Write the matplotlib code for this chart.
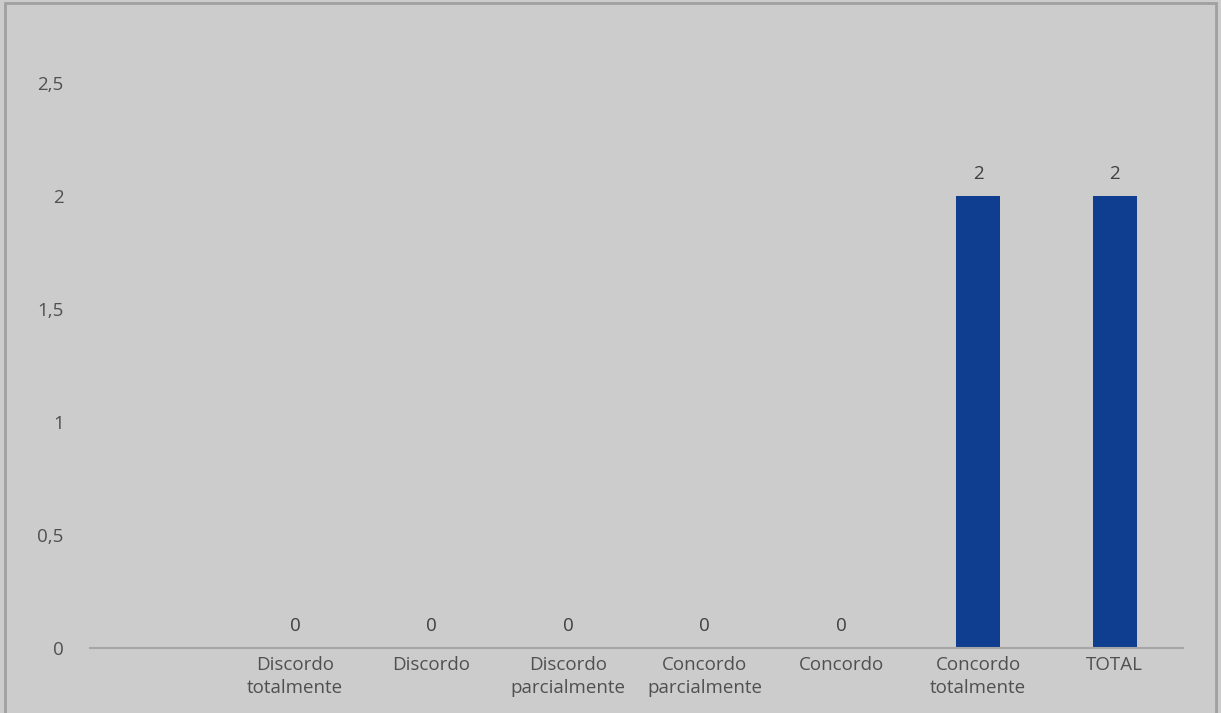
import matplotlib
matplotlib.use("Agg")
import matplotlib.pyplot as plt
from matplotlib.patches import Rectangle
import numpy as np

categories = ["", "Discordo\ntotalmente", "Discordo", "Discordo\nparcialmente",
              "Concordo\nparcialmente", "Concordo", "Concordo\ntotalmente", "TOTAL"]
values = [np.nan, 0, 0, 0, 0, 0, 2, 2]
yticks = [0, 0.5, 1, 1.5, 2, 2.5]
ytick_labels = ["0", "0,5", "1", "1,5", "2", "2,5"]

W, H = 1221, 713
fig = plt.figure(figsize=(W / 100, H / 100), dpi=100)
bg = "#cccccc"
fig.patch.set_facecolor(bg)
plt.rcParams['font.family'] = ['Open Sans', 'DejaVu Sans']

ymax = 2.8
y0_px, unit_px = 648, 226
top_px = y0_px - ymax * unit_px
ax = fig.add_axes([90 / W, 1 - y0_px / H, (1183 - 90) / W, (y0_px - top_px) / H])
ax.set_facecolor(bg)

x = np.arange(len(categories))
ax.bar(x, values, width=0.32, color="#0f3d8f", zorder=2)
ax.set_xlim(-0.5, len(categories) - 0.5)
ax.set_ylim(0, ymax)

fs = 13.5
for xi, v in zip(x, values):
    if np.isnan(v):
        continue
    ax.annotate(f"{v:g}", (xi, v), xytext=(0, 16), textcoords="offset points",
                ha="center", va="center", fontsize=fs, color="#404040")

ax.set_xticks(x)
ax.set_xticklabels(categories, fontsize=fs, color="#505050", linespacing=1.35)
ax.set_yticks(yticks)
ax.set_yticklabels(ytick_labels, fontsize=fs, color="#505050")
ax.tick_params(axis="both", length=0)
ax.tick_params(axis="y", pad=19)
ax.tick_params(axis="x", pad=6)
for s in ["top", "right", "left"]:
    ax.spines[s].set_visible(False)
ax.spines["bottom"].set_color("#a6a6a6")
ax.spines["bottom"].set_linewidth(1.5)

fig.patches.append(Rectangle((5 / W, -0.05), (1216 - 5) / W, 1.05 - 3 / H,
                             transform=fig.transFigure, fill=False,
                             edgecolor="#a0a0a0", linewidth=2))

fig.savefig("out.png", dpi=100, facecolor=bg)
